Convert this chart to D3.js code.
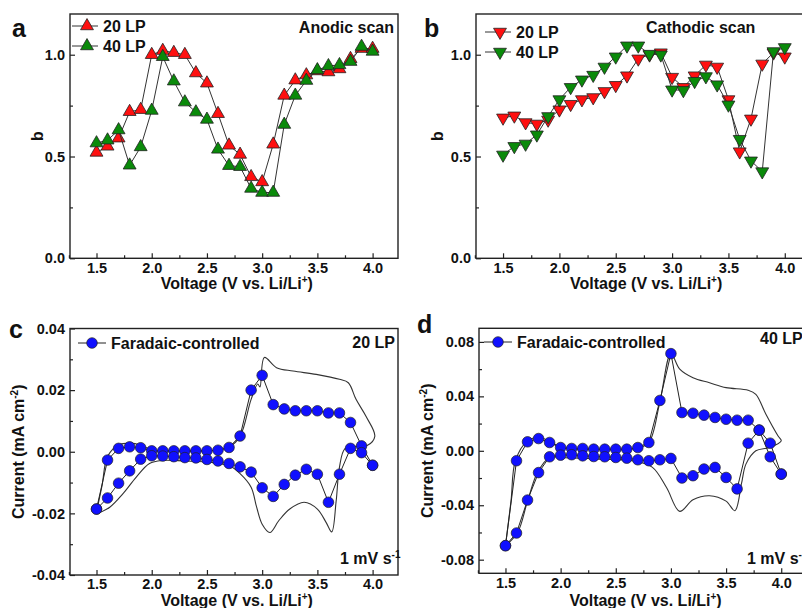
<!DOCTYPE html>
<html>
<head>
<meta charset="utf-8">
<script src="https://cdn.jsdelivr.net/npm/d3@7"></script>
<style>
body { margin: 0; background: #fff; }
svg { display: block; }
text { font-family: "Liberation Sans", Arial, sans-serif; font-weight: bold; fill: #111; }
</style>
</head>
<body>
<svg id="fig" width="802" height="608"></svg>
<script>
// potentials, V vs. Li/Li+
var voltage = [1.5,1.6,1.7,1.8,1.9,2.0,2.1,2.2,2.3,2.4,2.5,2.6,2.7,2.8,2.9,3.0,3.1,3.2,3.3,3.4,3.5,3.6,3.7,3.8,3.9,4.0];

// b-values, anodic scan
var anodic20 = [0.52,0.55,0.59,0.72,0.73,1.00,1.02,1.01,1.00,0.91,0.86,0.71,0.555,0.51,0.40,0.375,0.56,0.80,0.875,0.90,0.92,0.915,0.93,0.98,1.03,1.03];
var anodic40 = [0.566,0.58,0.63,0.457,0.547,0.726,0.99,0.87,0.767,0.718,0.682,0.535,0.455,0.45,0.343,0.323,0.323,0.657,0.80,0.873,0.925,0.945,0.95,0.966,1.04,1.016];

// b-values, cathodic scan
var cathodic20 = [0.69,0.70,0.667,0.66,0.68,0.73,0.757,0.78,0.79,0.82,0.85,0.897,0.98,1.0,1.01,0.89,0.84,0.897,0.95,0.94,0.78,0.524,0.685,0.955,1.01,0.99];
var cathodic40 = [0.508,0.55,0.562,0.607,0.697,0.78,0.84,0.877,0.90,0.94,0.99,1.044,1.044,1.003,1.0,0.828,0.825,0.87,0.893,0.853,0.754,0.585,0.479,0.426,1.016,1.036];

// faradaic-controlled current (mA cm-2), upper = anodic branch, lower = cathodic branch
var farad20Up = [-0.0186,-0.0027,0.0011,0.0016,0.0013,0.0003,0.0003,0.0003,0.0003,0.0003,0.0003,0.0005,0.0014,0.0051,0.020,0.0248,0.0153,0.0139,0.0133,0.0133,0.0133,0.0126,0.0126,0.0095,0.0019,-0.0044];
var farad20Down = [-0.0186,-0.015,-0.0102,-0.0062,-0.0024,-0.0013,-0.0014,-0.0016,-0.0019,-0.002,-0.0025,-0.003,-0.0038,-0.0049,-0.0066,-0.0117,-0.0145,-0.0106,-0.0076,-0.0057,-0.0073,-0.0164,-0.0073,0.0011,-0.0003,-0.0044];
var farad40Up = [-0.0697,-0.0073,0.0066,0.009,0.0061,0.0024,0.0017,0.0017,0.0012,0.0012,0.0012,0.0012,0.0024,0.0061,0.037,0.0714,0.0281,0.0276,0.0262,0.0245,0.0232,0.0225,0.0225,0.0152,0.0056,-0.0171];
var farad40Down = [-0.0697,-0.0604,-0.0362,-0.016,-0.0044,-0.0032,-0.0029,-0.0037,-0.0042,-0.0044,-0.0049,-0.0054,-0.0066,-0.0073,-0.0066,-0.0056,-0.020,-0.0183,-0.0134,-0.0122,-0.0196,-0.028,0.0056,0.0152,-0.0044,-0.0171];

// total CV at 1 mV/s (thin line), closed loop
var cv20V = [1.5,1.55,1.6,1.7,1.8,1.9,2.0,2.2,2.5,2.6,2.7,2.8,2.9,2.96,2.98,3.02,3.13,3.28,3.49,3.7,3.78,3.85,3.94,4.02,3.95,3.85,3.75,3.7,3.67,3.63,3.58,3.5,3.38,3.25,3.15,3.07,3.0,2.95,2.9,2.8,2.7,2.6,2.5,2.3,2.1,1.98,1.86,1.74,1.62,1.5];
var cv20I = [-0.0195,-0.011,-0.0015,0.0022,0.0028,0.0022,0.0005,0.0002,0.0003,0.0005,0.0015,0.005,0.017,0.022,0.021,0.0306,0.0273,0.0262,0.0251,0.0235,0.0224,0.017,0.0115,0.005,0.002,0.0018,0.001,-0.005,-0.016,-0.026,-0.023,-0.0186,-0.0164,-0.0186,-0.0224,-0.0262,-0.0235,-0.018,-0.0115,-0.0071,-0.0045,-0.0038,-0.0033,-0.003,-0.0028,-0.0038,-0.0082,-0.0136,-0.018,-0.0202];
var cv40V = [1.5,1.55,1.59,1.7,1.79,1.9,2.0,2.3,2.6,2.7,2.8,2.9,3.0,3.08,3.2,3.35,3.5,3.7,3.77,3.86,3.97,4.0,3.89,3.77,3.68,3.64,3.58,3.5,3.35,3.2,3.08,2.96,2.83,2.65,2.35,1.99,1.9,1.79,1.7,1.61,1.5];
var cv40I = [-0.0697,-0.037,-0.0073,0.0073,0.0098,0.0073,0.0024,0.001,0.001,0.002,0.006,0.036,0.0713,0.060,0.0537,0.050,0.0464,0.0445,0.0415,0.027,0.011,0.0073,0.0024,0.0,-0.0098,-0.024,-0.044,-0.037,-0.033,-0.036,-0.0445,-0.027,-0.012,-0.0073,-0.0061,-0.0049,-0.0049,-0.016,-0.037,-0.06,-0.0697];

var xMajor = [1.5,2.0,2.5,3.0,3.5,4.0];
var xMinor = [1.25,1.75,2.25,2.75,3.25,3.75];

var red = "#ff1010", green = "#0a8a0a", blue = "#1010ff";
var svg = d3.select("#fig");

function panel(p) {
  var x = d3.scaleLinear().domain([1.26, 4.23]).range([p.left, p.right]);
  var y = d3.scaleLinear().domain(p.yDomain).range([p.bottom, p.top]);
  var g = svg.append("g");

  // minor ticks
  g.append("g").attr("transform", "translate(0," + p.bottom + ")")
    .call(d3.axisBottom(x).tickValues(xMinor).tickSizeInner(-3).tickSizeOuter(0).tickFormat(""));
  g.append("g").attr("transform", "translate(" + p.left + ",0)")
    .call(d3.axisLeft(y).tickValues(p.yMinor).tickSizeInner(-3).tickSizeOuter(0).tickFormat(""));
  // major ticks
  g.append("g").attr("class", "xax").attr("transform", "translate(0," + p.bottom + ")")
    .call(d3.axisBottom(x).tickValues(xMajor).tickSizeInner(-5).tickSizeOuter(0).tickPadding(4)
      .tickFormat(d3.format(".1f")));
  g.append("g").attr("class", "yax").attr("transform", "translate(" + p.left + ",0)")
    .call(d3.axisLeft(y).tickValues(p.yMajor).tickSizeInner(-5).tickSizeOuter(0).tickPadding(5)
      .tickFormat(p.yFmt));
  g.selectAll(".domain").remove();
  g.selectAll(".tick line").attr("stroke", "#222").attr("stroke-width", 1.2);
  g.selectAll(".tick text").attr("font-size", 14.5).attr("font-family", null).attr("fill", "#111");

  g.append("rect").attr("x", p.left).attr("y", p.top)
    .attr("width", p.right - p.left).attr("height", p.bottom - p.top)
    .attr("fill", "none").attr("stroke", "#222").attr("stroke-width", 1.4);

  // titles
  var xt = g.append("text").attr("x", (p.left + 330 / 2 + p.left + 1) / 2 + 82).attr("y", p.xTitleY)
    .attr("text-anchor", "middle").attr("font-size", 16).text("Voltage (V vs. Li/Li");
  xt.attr("x", x(2.77));
  xt.append("tspan").attr("font-size", 10).attr("dy", -6).text("+");
  xt.append("tspan").attr("dy", 6).text(")");

  var yt = g.append("text").attr("transform", "translate(" + p.yTitleX + "," + ((p.top + p.bottom) / 2) + ") rotate(-90)")
    .attr("text-anchor", "middle").attr("font-size", 16);
  if (p.yTitle === "b") {
    yt.text("b");
  } else {
    yt.text("Current (mA cm");
    yt.append("tspan").attr("font-size", 10).attr("dy", -6).text("-2");
    yt.append("tspan").attr("dy", 6).text(")");
  }
  g.append("text").attr("x", p.tagX).attr("y", p.tagY).attr("font-size", 25).text(p.tag);

  return {g: g, x: x, y: y};
}

function triSeries(P, vals, color, down) {
  var pts = voltage.map(function(v, i) { return [v, vals[i]]; });
  P.g.append("path").datum(pts)
    .attr("d", d3.line().x(function(d) { return P.x(d[0]); }).y(function(d) { return P.y(d[1]); }))
    .attr("fill", "none").attr("stroke", "#333").attr("stroke-width", 1);
  P.g.selectAll(null).data(pts).enter().append("path")
    .attr("d", d3.symbol().type(d3.symbolTriangle).size(72))
    .attr("transform", function(d) { return "translate(" + P.x(d[0]) + "," + P.y(d[1]) + ")" + (down ? " rotate(180)" : ""); })
    .attr("fill", color).attr("stroke", "#222").attr("stroke-width", 0.8);
}

function triLegend(P, x, y, color, down, label) {
  P.g.append("line").attr("x1", x - 15).attr("x2", x + 11).attr("y1", y).attr("y2", y)
    .attr("stroke", "#333").attr("stroke-width", 1);
  P.g.append("path").attr("d", d3.symbol().type(d3.symbolTriangle).size(72)())
    .attr("transform", "translate(" + x + "," + y + ")" + (down ? " rotate(180)" : ""))
    .attr("fill", color).attr("stroke", "#222").attr("stroke-width", 0.8);
  P.g.append("text").attr("x", x + 16).attr("y", y + 6).attr("font-size", 16).text(label);
}

function cvPanel(P, cvV, cvI, up, down) {
  var line = d3.line().x(function(d) { return P.x(d[0]); }).y(function(d) { return P.y(d[1]); });
  var cv = cvV.map(function(v, i) { return [v, cvI[i]]; });
  P.g.append("path").datum(cv).attr("d", line.curve(d3.curveCatmullRom.alpha(0.5)))
    .attr("fill", "none").attr("stroke", "#333").attr("stroke-width", 1.1);
  var fwd = voltage.map(function(v, i) { return [v, up[i]]; });
  var back = voltage.map(function(v, i) { return [v, down[i]]; }).reverse();
  var loop = fwd.concat(back);
  P.g.append("path").datum(loop)
    .attr("d", d3.line().x(function(d) { return P.x(d[0]); }).y(function(d) { return P.y(d[1]); }))
    .attr("fill", "none").attr("stroke", "#222").attr("stroke-width", 1);
  P.g.selectAll(null).data(loop).enter().append("circle")
    .attr("cx", function(d) { return P.x(d[0]); }).attr("cy", function(d) { return P.y(d[1]); })
    .attr("r", 5.3).attr("fill", blue).attr("stroke", "#222").attr("stroke-width", 0.7);
}

function circLegend(P, x, y) {
  P.g.append("line").attr("x1", x - 14).attr("x2", x + 14).attr("y1", y).attr("y2", y)
    .attr("stroke", "#222").attr("stroke-width", 1);
  P.g.append("circle").attr("cx", x).attr("cy", y).attr("r", 5.3)
    .attr("fill", blue).attr("stroke", "#222").attr("stroke-width", 0.7);
  P.g.append("text").attr("x", x + 19).attr("y", y + 6).attr("font-size", 16).text("Faradaic-controlled");
}

function rate(P, x, y) {
  var t = P.g.append("text").attr("x", x).attr("y", y).attr("font-size", 16).text("1 mV s");
  t.append("tspan").attr("font-size", 10).attr("dy", -6).text("-1");
}

var f1 = d3.format(".1f");
var f2 = function(d) { return d.toFixed(2); };

// a
var A = panel({left: 70, right: 398, top: 14, bottom: 258.3, yDomain: [0, 1.2],
  yMajor: [0, 0.5, 1.0], yMinor: [0.25, 0.75], yFmt: f1,
  xTitleY: 289, yTitleX: 43, yTitle: "b", tag: "a", tagX: 12, tagY: 37});
triSeries(A, anodic20, red, false);
triSeries(A, anodic40, green, false);
triLegend(A, 87, 26, red, false, "20 LP");
triLegend(A, 87, 46, green, false, "40 LP");
A.g.append("text").attr("x", 394).attr("y", 33).attr("text-anchor", "end").attr("font-size", 16).text("Anodic scan");

// b
var B = panel({left: 476, right: 810.7, top: 14, bottom: 258.3, yDomain: [0, 1.2],
  yMajor: [0, 0.5, 1.0], yMinor: [0.25, 0.75], yFmt: f1,
  xTitleY: 289, yTitleX: 443, yTitle: "b", tag: "b", tagX: 424, tagY: 37});
triSeries(B, cathodic20, red, true);
triSeries(B, cathodic40, green, true);
triLegend(B, 500, 32, red, true, "20 LP");
triLegend(B, 500, 52, green, true, "40 LP");
B.g.append("text").attr("x", 646).attr("y", 33).attr("font-size", 16).text("Cathodic scan");

// c
var C = panel({left: 70, right: 398, top: 328.5, bottom: 575, yDomain: [-0.04, 0.04],
  yMajor: [-0.04, -0.02, 0, 0.02, 0.04], yMinor: [-0.03, -0.01, 0.01, 0.03], yFmt: f2,
  xTitleY: 606, yTitleX: 24, yTitle: "I", tag: "c", tagX: 9, tagY: 338});
cvPanel(C, cv20V, cv20I, farad20Up, farad20Down);
circLegend(C, 92, 343);
C.g.append("text").attr("x", 395).attr("y", 348).attr("text-anchor", "end").attr("font-size", 16).text("20 LP");
rate(C, 340, 564);

// d
var D = panel({left: 479, right: 806.6, top: 328.3, bottom: 573.3, yDomain: [-0.09, 0.09],
  yMajor: [-0.08, -0.04, 0, 0.04, 0.08], yMinor: [-0.06, -0.02, 0.02, 0.06], yFmt: f2,
  xTitleY: 606, yTitleX: 433, yTitle: "I", tag: "d", tagX: 417, tagY: 333});
cvPanel(D, cv40V, cv40I, farad40Up, farad40Down);
circLegend(D, 498, 342);
D.g.append("text").attr("x", 760).attr("y", 344).attr("font-size", 16).text("40 LP");
rate(D, 747, 564);
</script>
</body>
</html>
